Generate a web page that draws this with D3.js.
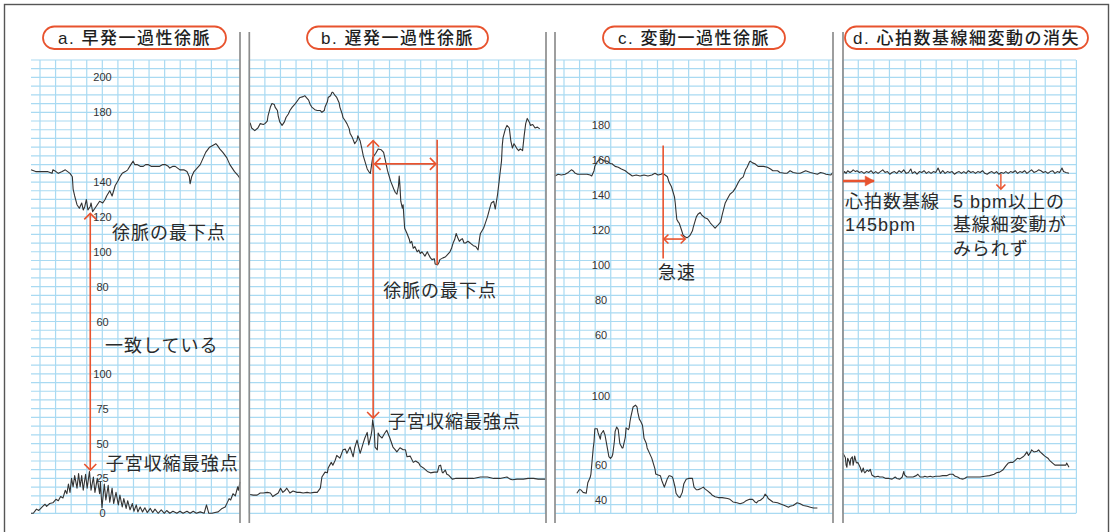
<!DOCTYPE html>
<html>
<head>
<meta charset="utf-8">
<script src="https://cdn.jsdelivr.net/npm/d3@7"></script>
<style>
  body { margin: 0; background: #fff; }
  svg { display: block; }
</style>
</head>
<body>
<svg id="chart" width="1113" height="532"></svg>
<script>
// ---- values: [seconds, bpm] and [seconds, mmHg] ----
const titles = ["a. 早発一過性徐脈", "b. 遅発一過性徐脈", "c. 変動一過性徐脈", "d. 心拍数基線細変動の消失"];

const fhrTicksA = [200, 180, 140, 120, 100, 80, 60];
const ucTicksA  = [100, 75, 50, 25, 0];
const fhrTicksC = [180, 160, 140, 120, 100, 80, 60];
const ucTicksC  = [100, 60, 40];

const fhrA = [[0,147],[6,146],[12,146],[15,146],[21,146],[27,145],[28,147],[32,146],[35,145],[40,146],[44,147],[47,146],[50,145],[53,143],[54,136],[56,132],[59,127],[62,125],[63,126],[65,128],[67,124],[69,126],[71,130],[73,124],[76,126],[77,128],[79,123],[82,125],[85,127],[88,129],[92,128],[95,130],[97,132],[101,135],[104,132],[108,138],[112,141],[114,143],[117,145],[121,146],[124,147],[128,150],[131,152],[133,150],[136,150],[140,149],[144,149],[147,150],[150,150],[154,149],[156,149],[160,149],[165,149],[169,150],[172,150],[176,149],[178,148],[182,149],[185,149],[188,148],[191,147],[196,147],[200,146],[203,143],[204,139],[206,143],[209,146],[213,148],[217,150],[221,154],[224,157],[229,160],[233,161],[237,162],[239,161],[242,159],[246,157],[251,154],[255,150],[258,148],[261,146],[265,144],[268,142]];

const ucA = [[0,0],[3,0],[7,3],[10,2],[15,5],[18,6.5],[20,5],[24,7],[28,7.5],[32,10],[35,9],[38,12],[41,11],[44,16.5],[46,14],[48,21],[50,15],[52,25],[54,19],[56,27],[59,18],[61,28.5],[63,19],[65,27],[67,16.5],[70,28],[72,18],[75,30],[77,16.5],[80,26],[82,15],[85,25],[88,14],[89,22.5],[91,4],[94,21],[96,9.5],[99,20],[101,8],[104,18],[106,7],[109,15],[112,6],[114,13],[117,4.5],[119,10.5],[122,3.5],[124,9],[127,2.5],[130,7],[132,1.5],[135,6],[137,1],[140,4.5],[143,1],[146,4],[149,0.5],[153,3.5],[156,0.5],[159,3],[163,0],[167,2.5],[171,0],[174,2],[178,0],[182,1.5],[187,0],[191,1.5],[195,0],[200,1.5],[204,0],[208,1.5],[212,0],[217,1],[222,0],[225,6],[228,0],[232,0],[236,0.5],[240,1],[245,3.5],[249,4.5],[252,8],[254,10.5],[256,9.5],[259,14],[262,12.5],[265,19],[266,16.5],[268,22.5]];

const fhrB = [[1,174],[3,171],[7,169.5],[11,171],[14,173.5],[18,173],[20,173.5],[23,175],[24,178],[27,183],[29,185],[32,184.5],[33,183],[36,181],[37,178],[39,174.5],[42,172.5],[45,174.5],[47,177],[50,179],[52,181],[55,183],[59,185],[63,187.5],[65,188.5],[69,189],[71,189.5],[74,188],[76,187],[78,184.5],[80,183],[84,181.5],[87,181],[91,181],[93,180],[96,181],[97,183],[100,186],[101,188.5],[104,189.5],[106,191.5],[107,191.5],[110,189.5],[112,188.5],[115,185.5],[116,183],[119,179],[120,177],[123,175],[125,173.5],[128,170.5],[129,168],[132,165.5],[135,162],[138,164],[139,166.5],[142,163.5],[144,159.5],[146,155],[148,152],[151,147.5],[153,146],[155,145],[158,154],[162,156.5],[165,159],[169,158.5],[172,157],[174,153],[177,146.5],[181,140.5],[185,136],[187,134],[189,133],[191,137.5],[192,143.5],[193,137.5],[194,129],[196,125],[197,127],[198,120],[199,113.5],[201,111.5],[202,110.5],[205,107],[206,105],[208,106],[210,102],[212,103],[215,100],[217,101],[219,99],[221,100],[225,97.5],[228,100],[229,99],[232,96.5],[234,95.5],[237,96],[238,93],[241,92.5],[243,94],[244,95.5],[248,96.5],[251,97],[253,98],[257,100],[259,102],[261,105],[263,107],[265,110.5],[267,108],[269,106],[271,107],[273,107.5],[275,105],[277,105],[280,106],[283,105],[287,103.5],[290,103],[293,101],[295,108],[296,110.5],[300,113.5],[302,116],[305,120],[308,125],[310,128],[313,129],[315,124.5],[318,133],[320,140.5],[321,144.5],[323,152],[324,161],[325,165.5],[328,170.5],[330,172.5],[333,171],[335,163.5],[337,159.5],[339,162],[341,160.5],[343,159],[345,158],[347,159],[350,158],[352,166.5],[354,173.5],[356,176.5],[359,174],[360,172.5],[363,173],[366,171],[369,171.5],[372,170.5]];

const ucB = [[1,13.5],[5,13],[10,13],[14,14.5],[18,14.5],[23,15],[27,14.5],[30,12],[34,13.5],[37,14.5],[40,18],[43,15],[46,16.5],[48,18],[52,14.5],[56,16],[61,15],[65,15],[69,14.5],[74,15],[78,14.5],[83,15],[87,15],[91,18],[93,26],[97,29.5],[100,29],[101,32.5],[105,36.5],[107,34.5],[110,38],[112,41.5],[116,39.5],[120,45.5],[123,46],[125,43],[129,47.5],[133,40.5],[135,47],[138,52.5],[142,43],[146,50.5],[148,54],[151,58],[153,49],[156,56],[157,59.5],[158,67],[160,59.5],[161,47.5],[164,45.5],[165,57.5],[167,55.5],[170,54],[173,57],[176,59.5],[180,54],[184,47.5],[187,45.5],[189,44],[193,47],[197,45.5],[200,45.5],[202,40.5],[206,41],[210,36.5],[213,37.5],[217,36],[219,34],[223,32.5],[228,30],[232,29],[237,29.5],[241,29.5],[243,34],[245,34.5],[247,29.5],[248,29],[251,31],[253,28],[255,27.5],[260,24.5],[264,25],[270,25],[279,25],[287,25],[296,26],[305,26],[313,25],[321,25],[330,26],[334,24.5],[337,24],[343,24.5],[351,24.5],[357,25],[364,25],[370,24.5],[379,24.5]];

const fhrC = [[0,151],[4,152],[8,151.5],[13,152],[17,153],[21,154.5],[23,154],[26,152.5],[29,152],[33,152],[37,152],[41,152],[45,151.5],[47,151],[50,154],[51,156.5],[54,159],[58,161],[62,160],[64,159.5],[67,159.5],[71,158],[73,158],[77,156.5],[81,156],[85,155],[90,154],[94,152.5],[99,151],[104,151.5],[109,151],[114,151.5],[119,151],[124,151.5],[128,152.5],[132,151.5],[136,152],[138,152.5],[141,151.5],[144,150.5],[146,147.5],[149,145],[150,143.5],[153,139],[154,135.5],[155,130.5],[156,126],[158,124.5],[159,124],[162,120],[164,117],[167,116],[169,115.5],[172,116.5],[173,117],[176,119.5],[177,121.5],[179,124.5],[181,127.5],[183,129],[186,130],[188,128.5],[192,127],[195,126.5],[196,126],[199,124],[201,123],[205,121],[209,123],[212,124.5],[214,128.5],[218,135.5],[221,138],[224,140.5],[228,142],[231,144],[235,147.5],[237,149],[241,150.5],[244,154.5],[246,156],[249,159],[250,159.5],[253,158.5],[256,158],[260,156.5],[263,156.5],[267,156.5],[272,156],[276,155],[279,154],[285,154],[288,153],[294,152.5],[297,152.5],[301,154],[305,153],[310,152.5],[314,152.5],[321,154],[327,153],[331,152.5],[336,152],[340,153],[344,152.5],[347,152],[353,151.5],[356,153]];

const ucC = [[28,44],[31,46],[33,46],[36,44.5],[40,44],[42,50],[45,53],[46,55],[49,70],[50,73.5],[51,81],[54,81],[55,79],[58,75],[59,78],[62,80],[63,78.5],[64,77.5],[67,70],[69,65],[71,64],[73,65],[74,66.5],[76,73.5],[77,79.5],[79,82],[81,80.5],[83,72.5],[86,70],[87,70],[90,76],[91,81.5],[94,80.5],[95,81.5],[96,85],[97,87.5],[100,93.5],[103,94.5],[105,93.5],[106,90.5],[108,86.5],[110,85],[112,83],[113,79.5],[114,75.5],[117,72.5],[118,70],[121,67],[123,65],[124,64],[126,61],[128,58],[129,55],[132,54.5],[135,54],[137,51],[140,47.5],[142,50],[144,52.5],[146,54],[147,54],[150,53.5],[151,52.5],[154,47],[155,44],[158,42],[160,41.5],[163,44.5],[165,49.5],[168,52],[171,52.5],[173,52.5],[176,52.5],[177,50],[178,47.5],[181,46],[183,46],[186,46.5],[190,47.5],[192,46.5],[195,45.5],[199,44],[201,43],[205,42],[209,41.5],[214,41.5],[221,41],[224,40.5],[228,39],[233,38.5],[237,38],[241,38.5],[244,39.5],[249,40.5],[253,40.5],[254,40],[256,39],[258,38.5],[260,39.5],[263,40],[267,41.5],[269,43.5],[272,42],[273,41],[276,40],[279,39],[285,38.5],[288,38],[294,37],[299,36],[301,36.5],[305,37],[310,38.5],[314,38],[318,37],[323,36.5],[327,36],[331,35.5],[336,35.5]];

const fhrD = [[0,144.5],[2,146],[4,145],[6,146.5],[9,145.5],[11,146],[13,147],[16,146],[18,146.5],[21,145.5],[24,146],[27,145],[30,146],[33,145.5],[36,146.5],[39,145],[42,146],[45,145],[48,146],[51,147],[54,145.5],[57,146],[60,144.5],[63,145.5],[66,146],[69,145],[72,146.5],[75,145.5],[78,147],[81,145],[84,145.5],[87,147.5],[89,145],[92,146],[95,144.5],[98,146],[101,145.5],[104,146.5],[107,145],[110,146],[113,145],[116,146],[119,145.5],[122,148],[125,145],[128,146.5],[131,145],[134,146],[137,145.5],[140,146],[143,144.5],[146,145.5],[149,146],[152,145],[155,146],[158,145],[161,146.5],[164,145.5],[167,146],[170,145],[173,146],[176,145.5],[179,146.5],[182,145],[185,144.5],[188,145.5],[191,146],[194,145],[197,146],[200,144.5],[203,145.5],[206,145],[209,146],[212,145],[215,146],[218,145.5],[221,146.5],[224,145],[227,146],[230,145.5],[233,146.5],[236,145],[239,146],[242,147],[245,145.5],[248,146],[251,147],[254,146.5],[257,145.5],[260,146],[263,145],[266,146],[269,146.5],[272,145],[275,146],[278,145.5],[281,148],[283,146],[286,145.5],[290,145]];

const ucD = [[0,43],[1,42],[3,40],[4,34.5],[5,33],[6,39.5],[8,37],[9,34.5],[10,39],[12,40.5],[13,34.5],[14,37.5],[15,41],[17,36.5],[18,36],[19,36.5],[22,33],[24,29.5],[26,32.5],[27,30],[28,29],[31,31],[33,30],[35,31.5],[37,27.5],[41,26],[45,26.5],[47,26],[51,26],[55,25],[59,25],[63,24.5],[67,26],[69,25],[73,24.5],[76,26],[78,30],[79,27.5],[82,26],[86,26],[90,26],[94,27],[96,28],[99,26],[103,26],[105,26.5],[108,26],[112,26.5],[115,26],[119,26.5],[124,26.5],[128,27],[133,27],[137,28],[141,28],[144,26.5],[147,26],[150,25],[154,24.5],[156,25],[159,26],[163,26],[169,26],[176,26],[182,26.5],[188,27],[194,28],[197,29],[201,29.5],[205,31],[209,34],[212,36],[215,36.5],[218,36.5],[221,38],[224,39.5],[227,39],[231,40.5],[233,41.5],[236,44],[238,41.5],[241,44],[242,45.5],[245,44],[249,44.5],[251,45.5],[253,44],[256,42.5],[259,41],[263,39.5],[265,38],[269,36],[272,34.5],[276,34.5],[281,34.5],[286,34.5],[287,36],[290,33]];

// ---- layout ----
const W = 1113, H = 532;
const gridTop = 60, rowH = 8.717, colW = 15.58, rows = 52;
const red = "#e8532e", ink = "#2b2b2b", gridColor = "#a9daf2";
const sans = "'Liberation Sans', 'Noto Sans CJK JP', sans-serif";
const row = k => gridTop + k * rowH;

const panels = [
  {left: 31,    right: 240,  firstCol: 40,    dur: 268, fhr: fhrA, uc: ucA,
   fhrDom: [200, 60], fhrRows: [2, 30],   ucDom: [0, 100], ucRows: [52, 36],
   fhrTicks: fhrTicksA, ucTicks: ucTicksA, labelX: 102.5, pill: [134.5, 183]},
  {left: 249.3, right: 546,  firstCol: 249.3, dur: 380, fhr: fhrB, uc: ucB,
   fhrDom: [200, 60], fhrRows: [2, 30],   ucDom: [0, 100], ucRows: [52, 36],
   fhrTicks: [], ucTicks: [], labelX: 0, pill: [397.5, 181]},
  {left: 555,   right: 833,  firstCol: 564,   dur: 356, fhr: fhrC, uc: ucC,
   fhrDom: [180, 60], fhrRows: [7.5, 31.5], ucDom: [40, 100], ucRows: [50.5, 38.5],
   fhrTicks: fhrTicksC, ucTicks: ucTicksC, labelX: 601, pill: [694, 182]},
  {left: 843,   right: 1076, firstCol: 842.7, dur: 299, fhr: fhrD, uc: ucD,
   fhrDom: [200, 60], fhrRows: [2, 30],   ucDom: [0, 100], ucRows: [52, 36],
   fhrTicks: [], ucTicks: [], labelX: 0, pill: [966.5, 243]}
];

const svg = d3.select("#chart");

const defs = svg.append("defs");
function marker(id, d, filled) {
  defs.append("marker")
      .attr("id", id)
      .attr("viewBox", "-10 -8 12 16")
      .attr("markerUnits", "userSpaceOnUse")
      .attr("markerWidth", 12).attr("markerHeight", 16)
      .attr("refX", 0).attr("refY", 0)
      .attr("orient", "auto-start-reverse")
      .append("path")
      .attr("d", d)
      .attr("fill", filled ? red : "none")
      .attr("stroke", red)
      .attr("stroke-width", filled ? 0.5 : 1.6)
      .attr("stroke-linejoin", "miter");
}
marker("chev", "M-6,-6L0,0L-6,6", false);
marker("chevS", "M-4.5,-4.5L0,0L-4.5,4.5", false);
marker("tri", "M-9,-5L0,0L-9,5Z", true);

// outer frame
svg.append("rect")
    .attr("x", 4.5).attr("y", 4.5)
    .attr("width", 1104).attr("height", 620)
    .attr("fill", "none").attr("stroke", "#555").attr("stroke-width", 1.4);

panels.forEach((p, i) => {
  const g = svg.append("g");
  const x = d3.scaleLinear().domain([0, p.dur]).range([p.left, p.right]);
  const yF = d3.scaleLinear().domain(p.fhrDom).range(p.fhrRows.map(row));
  const yU = d3.scaleLinear().domain(p.ucDom).range(p.ucRows.map(row));
  p.x = x; p.yF = yF; p.yU = yU; p.g = g;

  // chart paper
  const grid = g.append("g").attr("stroke", gridColor).attr("stroke-width", 1.2);
  grid.selectAll(".h").data(d3.range(rows + 1)).join("line")
      .attr("x1", p.left).attr("x2", p.right)
      .attr("y1", k => row(k)).attr("y2", k => row(k));
  grid.selectAll(".v").data(d3.range(p.firstCol, p.right + 1, colW)).join("line")
      .attr("x1", d => d).attr("x2", d => d)
      .attr("y1", gridTop).attr("y2", row(rows));

  // scale numbers printed on the paper
  [[yF, p.fhrTicks], [yU, p.ucTicks]].forEach(([sc, ticks]) => {
    if (!ticks.length) return;
    const ax = g.append("g")
        .attr("transform", "translate(" + p.labelX + ",0)")
        .call(d3.axisLeft(sc).tickValues(ticks).tickSize(0).tickPadding(0));
    ax.select(".domain").remove();
    ax.selectAll("text")
        .attr("x", 0).attr("text-anchor", "middle")
        .attr("font-family", sans).attr("font-size", 11).attr("fill", "#333");
  });

  // traces
  const lineF = d3.line().x(d => x(d[0])).y(d => yF(d[1]));
  const lineU = d3.line().x(d => x(d[0])).y(d => yU(d[1]));
  g.append("path").attr("d", lineF(p.fhr))
      .attr("fill", "none").attr("stroke", "#333").attr("stroke-width", 1.1)
      .attr("stroke-linejoin", "round");
  g.append("path").attr("d", lineU(p.uc))
      .attr("fill", "none").attr("stroke", "#333").attr("stroke-width", 1.1)
      .attr("stroke-linejoin", "round");

  // title pill
  const [cx, w] = p.pill;
  svg.append("rect")
      .attr("x", cx - w / 2).attr("y", 26.5)
      .attr("width", w).attr("height", 22.5)
      .attr("rx", 11.25)
      .attr("fill", "#fff").attr("stroke", red).attr("stroke-width", 1.8);
  svg.append("text")
      .attr("x", cx).attr("y", 43.5)
      .attr("text-anchor", "middle")
      .attr("font-family", sans).attr("font-size", 17)
      .attr("font-weight", 500)
      .attr("letter-spacing", 1.5)
      .attr("fill", "#1e1e1e")
      .text(titles[i]);
});

// panel separators
[240, 249.3, 546, 555, 833, 843].forEach(xx => {
  svg.append("line")
      .attr("x1", xx).attr("x2", xx).attr("y1", 32).attr("y2", 523)
      .attr("stroke", "#8d8d8d").attr("stroke-width", 1.7);
});

// ---- annotations ----
function arrow(x1, y1, x2, y2, opts) {
  const l = svg.append("line")
      .attr("x1", x1).attr("y1", y1).attr("x2", x2).attr("y2", y2)
      .attr("stroke", red).attr("stroke-width", opts.w || 1.6);
  if (opts.start) l.attr("marker-start", "url(#" + opts.start + ")");
  if (opts.end) l.attr("marker-end", "url(#" + opts.end + ")");
}
function note(x, y, lines, size) {
  const t = svg.append("text")
      .attr("font-family", sans).attr("font-size", size || 18)
      .attr("letter-spacing", 1).attr("fill", ink);
  lines.forEach((s, k) => {
    t.append("tspan").attr("x", x).attr("y", y + k * 23.3).text(s);
  });
}

const [pa, pb, pc, pd] = panels;

// a
arrow(pa.x(76), pa.yF(122), pa.x(76), pa.yU(31), {start: "chev", end: "chev"});
note(pa.x(104), pa.yF(107.6), ["徐脈の最下点"]);
note(pa.x(95), pa.yU(115.6), ["一致している"]);
note(pa.x(96), pa.yU(31), ["子宮収縮最強点"]);

// b
arrow(pb.x(158.6), pb.yF(163.7), pb.x(158.6), pb.yU(68.3), {start: "chev", end: "chev"});
arrow(pb.x(240.6), pb.yF(164.2), pb.x(240.6), pb.yF(92.6), {});
arrow(pb.x(160.5), pb.yF(150.4), pb.x(239), pb.yF(150.4), {start: "chev", end: "chev"});
note(pb.x(171.4), pb.yF(74), ["徐脈の最下点"]);
note(pb.x(177.8), pb.yU(61.2), ["子宮収縮最強点"]);

// c
arrow(pc.x(138.5), pc.yF(168.4), pc.x(138.5), pc.yF(103.7), {});
arrow(pc.x(139.5), pc.yF(114.8), pc.x(166.7), pc.yF(114.8), {start: "chevS", end: "chevS"});
note(pc.x(132), pc.yF(91.9), ["急速"]);

// d
arrow(pd.x(0), pd.yF(140.6), pd.x(40), pd.yF(140.6), {end: "tri", w: 2.6});
arrow(pd.x(202.6), pd.yF(144.6), pd.x(202.6), pd.yF(136), {end: "chevS", w: 1.4});
note(pd.x(2.6), pd.yF(125), ["心拍数基線", "145bpm"]);
note(pd.x(141), pd.yF(125), ["5 bpm以上の", "基線細変動が", "みられず"]);
</script>
</body>
</html>
